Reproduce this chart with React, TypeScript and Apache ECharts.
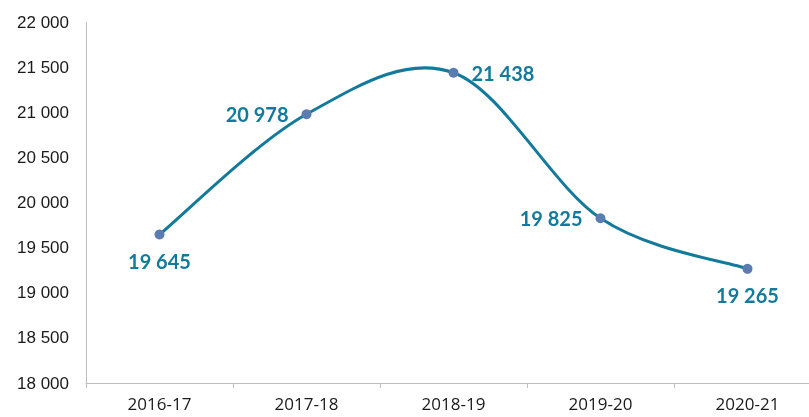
import React, { useEffect, useRef } from "react";
import * as echarts from "echarts";

const categories = ["2016-17", "2017-18", "2018-19", "2019-20", "2020-21"];
const values = [19645, 20978, 21438, 19825, 19265];
const labelPositions = ["bottom", "left", "right", "left", "bottom"];

const fmt = (v: number) => {
  const s = String(Math.round(v));
  return s.replace(/\B(?=(\d{3})+(?!\d))/g, " ");
};

export default function App() {
  const ref = useRef<HTMLDivElement>(null);
  useEffect(() => {
    const chart = echarts.init(ref.current!, undefined, { renderer: "svg" });
    const n = values.length;
    chart.setOption({
      animation: false,
      grid: { left: 86, top: 22, right: 0, bottom: 34, containLabel: false },
      xAxis: {
        type: "category",
        data: categories,
        boundaryGap: true,
        axisLine: { lineStyle: { color: "#bfbfbf", width: 1 } },
        axisTick: { show: true, alignWithLabel: false, length: 5, lineStyle: { color: "#bfbfbf" } },
        axisLabel: { color: "#1a1a1a", fontSize: 17, fontFamily: "Open Sans", margin: 12 },
      },
      yAxis: {
        type: "value",
        min: 18000,
        max: 22000,
        interval: 500,
        axisLine: { show: true, lineStyle: { color: "#bfbfbf", width: 1 } },
        axisTick: { show: false },
        splitLine: { show: false },
        axisLabel: {
          color: "#1a1a1a",
          fontSize: 17,
          fontFamily: "Liberation Sans",
          margin: 17,
          formatter: (v: number) => fmt(v),
        },
      },
      series: [
        {
          type: "custom",
          data: values.map((v, i) => [i, v]),
          encode: { x: 0, y: 1 },
          z: 2,
          renderItem: (params: any, api: any) => {
            const i = params.dataIndex;
            if (i >= n - 1) return { type: "group", children: [] };
            const pt = (j: number) => api.coord([j, values[j]]);
            const p0 = pt(Math.max(i - 1, 0));
            const p1 = pt(i);
            const p2 = pt(i + 1);
            const p3 = pt(Math.min(i + 2, n - 1));
            return {
              type: "bezierCurve",
              shape: {
                x1: p1[0],
                y1: p1[1],
                x2: p2[0],
                y2: p2[1],
                cpx1: p1[0] + (p2[0] - p0[0]) / 6,
                cpy1: p1[1] + (p2[1] - p0[1]) / 6,
                cpx2: p2[0] - (p3[0] - p1[0]) / 6,
                cpy2: p2[1] - (p3[1] - p1[1]) / 6,
              },
              style: { stroke: "#137a9c", lineWidth: 3, fill: "none" },
            };
          },
        },
        {
          type: "line",
          z: 3,
          data: values.map((v, i) => ({
            value: v,
            label: {
              position: labelPositions[i],
              distance: i === 0 || i === 4 ? 11 : 13,
            },
          })),
          symbol: "circle",
          symbolSize: 10,
          lineStyle: { opacity: 0, width: 0 },
          itemStyle: { color: "#5a7cb0" },
          label: {
            show: true,
            color: "#137a9c",
            fontSize: 20,
            fontWeight: "bold",
            fontFamily: "Lato",
            formatter: (p: any) => fmt(p.value),
          },
        },
      ],
    });
    return () => chart.dispose();
  }, []);
  return <div ref={ref} style={{ position: "fixed", left: 0, top: 0, width: 821, height: 417 }} />;
}
